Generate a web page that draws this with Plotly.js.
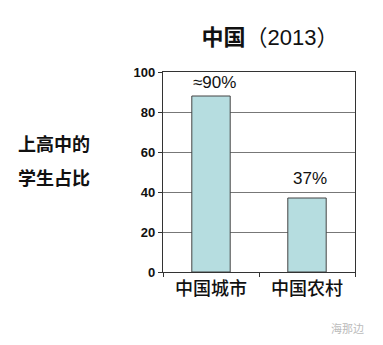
<!DOCTYPE html>
<html>
<head>
<meta charset="utf-8">
<script src="https://cdn.plot.ly/plotly-3.0.1.min.js"></script>
<style>html,body{margin:0;padding:0;background:#fff;}#chart{width:383px;height:345px;}</style>
</head>
<body>
<div id="chart"></div>
<script>
const categories = ["中国城市", "中国农村"];
const values = [88, 37];
const labels = ["≈90%", "37%"];
const labelY = [95, 47];
const yTicks = [0, 20, 40, 60, 80, 100];

const FONT = "Liberation Sans, Arial, Noto Sans CJK SC, sans-serif";
const CJK = "Noto Sans CJK SC, sans-serif";

const trace = {
  type: "bar",
  x: categories,
  y: values,
  marker: {color: "#b6dde0", line: {color: "#444", width: 1}},
  hoverinfo: "none"
};

const annotations = categories.map((c, i) => ({
  x: c, y: labelY[i], xref: "x", yref: "y",
  text: labels[i], showarrow: false,
  xshift: 3,
  font: {family: FONT, size: 17, color: "#111"}
}));
annotations.push({
  xref: "paper", yref: "paper", x: -0.57, y: 0.645, xanchor: "center", yanchor: "middle",
  text: "<b>上高中的</b>", showarrow: false,
  font: {family: CJK, size: 18, color: "#111"}
});
annotations.push({
  xref: "paper", yref: "paper", x: -0.57, y: 0.475, xanchor: "center", yanchor: "middle",
  text: "<b>学生占比</b>", showarrow: false,
  font: {family: CJK, size: 18, color: "#111"}
});
annotations.push({
  xref: "paper", yref: "paper", x: 1.055, y: -0.28, xanchor: "right", yanchor: "middle",
  text: "海那边", showarrow: false,
  font: {family: CJK, size: 11, color: "#bbb"}
});

const layout = {
  width: 383, height: 345,
  margin: {l: 163, r: 27.5, t: 72, b: 72.5},
  paper_bgcolor: "#fff", plot_bgcolor: "#fff",
  showlegend: false,
  bargap: 0.6,
  title: {
    text: "<b>中国</b>（2013）",
    x: 0.705, xanchor: "center", y: 0.893, yanchor: "middle",
    font: {family: FONT, size: 22, color: "#111"}
  },
  xaxis: {
    type: "category",
    showline: true, linecolor: "#333", linewidth: 1.2, mirror: true,
    ticks: "outside", tickson: "boundaries", ticklen: 4, tickcolor: "#333",
    tickfont: {family: CJK, size: 18, color: "#111", weight: 500},
    showgrid: false, fixedrange: true
  },
  yaxis: {
    range: [0, 100],
    tickvals: yTicks,
    ticktext: yTicks.map(String),
    showline: true, linecolor: "#333", linewidth: 1.2, mirror: true,
    ticks: "outside", ticklen: 4, tickcolor: "#333",
    tickfont: {family: FONT, size: 13, color: "#111", weight: "bold"},
    showgrid: true, gridcolor: "#777", gridwidth: 1,
    zeroline: false, fixedrange: true
  },
  annotations: annotations
};

Plotly.newPlot("chart", [trace], layout, {displayModeBar: false, staticPlot: true});
</script>
</body>
</html>
